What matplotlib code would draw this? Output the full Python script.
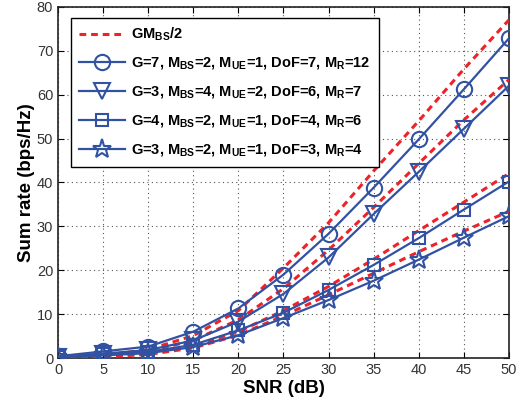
import matplotlib
matplotlib.use('Agg')
import matplotlib.pyplot as plt

plt.rcParams['font.family'] = ['Liberation Sans', 'DejaVu Sans']
plt.rcParams['mathtext.fontset'] = 'custom'
plt.rcParams['mathtext.rm'] = 'Liberation Sans:bold'
plt.rcParams['mathtext.bf'] = 'Liberation Sans:bold'

snr = [0, 5, 10, 15, 20, 25, 30, 35, 40, 45, 50]

# simulated sum rates (blue, markers)
rate_g7 = [0.4, 1.5, 2.6, 6.0, 11.3, 19.0, 28.3, 38.8, 49.8, 61.2, 72.8]
rate_g3_m4 = [0.3, 1.0, 1.8, 4.0, 8.3, 14.6, 22.9, 32.8, 42.4, 52.2, 62.0]
rate_g4 = [0.3, 0.8, 1.4, 3.0, 6.3, 10.3, 15.5, 21.2, 27.3, 33.8, 40.2]
rate_g3_m2 = [0.2, 0.6, 1.1, 2.5, 5.2, 9.1, 13.2, 17.6, 22.4, 27.4, 32.3]

# GM_BS/2 reference curves (red dashed)
ref_g7 = [0.2, 0.6, 1.9, 5.1, 10.8, 20.5, 30.8, 42.6, 54.0, 65.8, 77.0]
ref_g3_m4 = [0.2, 0.5, 1.5, 4.0, 8.7, 15.8, 24.6, 34.3, 44.3, 54.2, 63.4]
ref_g4 = [0.1, 0.3, 1.0, 2.8, 6.0, 10.8, 16.3, 22.5, 29.0, 35.5, 42.0]
ref_g3_m2 = [0.1, 0.3, 0.8, 2.3, 5.2, 9.6, 14.4, 19.3, 24.2, 28.9, 33.4]

labels = [
    r'GM$_{\mathbf{BS}}$/2',
    r'G=7, M$_{\mathbf{BS}}$=2, M$_{\mathbf{UE}}$=1, DoF=7, M$_{\mathbf{R}}$=12',
    r'G=3, M$_{\mathbf{BS}}$=4, M$_{\mathbf{UE}}$=2, DoF=6, M$_{\mathbf{R}}$=7',
    r'G=4, M$_{\mathbf{BS}}$=2, M$_{\mathbf{UE}}$=1, DoF=4, M$_{\mathbf{R}}$=6',
    r'G=3, M$_{\mathbf{BS}}$=2, M$_{\mathbf{UE}}$=1, DoF=3, M$_{\mathbf{R}}$=4',
]

blue = '#3152a3'
red = '#ee2229'

fig = plt.figure(figsize=(5.23, 4.0), dpi=100)
ax = fig.add_axes([0.111, 0.105, 0.862, 0.878])

handles = []
for i, ref in enumerate([ref_g7, ref_g3_m4, ref_g4, ref_g3_m2]):
    h, = ax.plot(snr, ref, '--', color=red, lw=2.2, dashes=(2.2, 1.6), zorder=3)
    if i == 0:
        handles.append(h)

for vals, mk, ms in [(rate_g7, 'o', 11), (rate_g3_m4, 'v', 11),
                     (rate_g4, 's', 9), (rate_g3_m2, '*', 14)]:
    h, = ax.plot(snr, vals, '-', color=blue, lw=1.6, marker=mk, ms=ms,
                 mfc='none', mec=blue, mew=1.5, zorder=4)
    handles.append(h)

ax.set_xlim(0, 50)
ax.set_ylim(0, 80)
ax.set_xticks(range(0, 51, 5))
ax.set_yticks(range(0, 81, 10))
ax.tick_params(direction='in', top=True, right=True, labelsize=10.5, length=4,
               labelcolor='#333333')
ax.grid(True, linestyle=(0, (1, 3)), color='#555555', lw=0.8)
for s in ax.spines.values():
    s.set_linewidth(1.2)
    s.set_color('#222222')

ax.set_xlabel('SNR (dB)', fontsize=13.5, fontweight='bold', labelpad=2)
ax.set_ylabel('Sum rate (bps/Hz)', fontsize=13.5, fontweight='bold', labelpad=1)

leg = ax.legend(handles, labels, loc='upper left',
                prop={'weight': 'bold', 'size': 10.5},
                handlelength=3.2, handletextpad=0.4, labelspacing=0.85,
                borderpad=0.55, fancybox=False, framealpha=1,
                bbox_to_anchor=(0.012, 0.99))
leg.get_frame().set_edgecolor('black')
leg.get_frame().set_linewidth(1.0)
leg.set_zorder(10)

fig.savefig('out.png', dpi=100)
